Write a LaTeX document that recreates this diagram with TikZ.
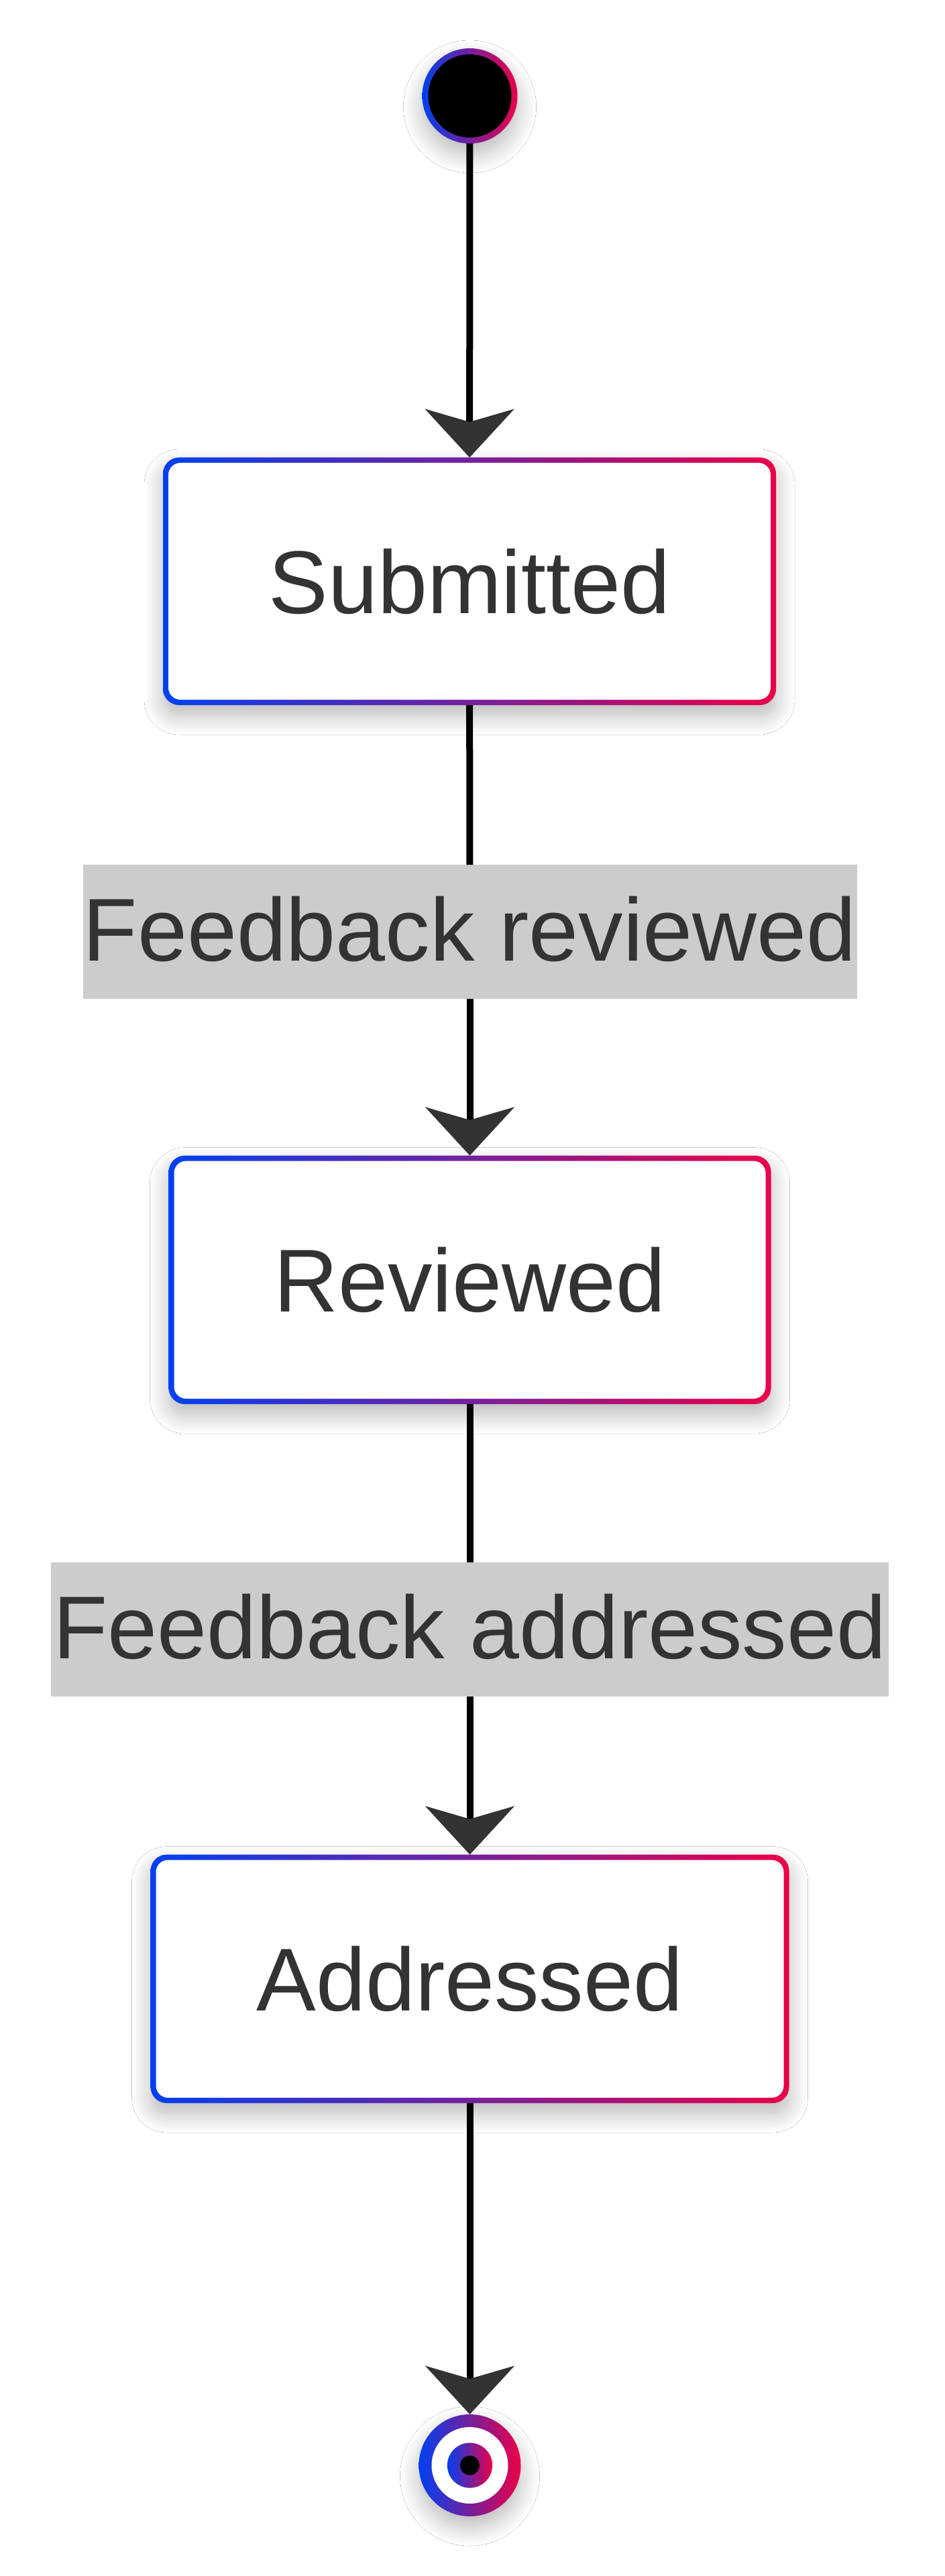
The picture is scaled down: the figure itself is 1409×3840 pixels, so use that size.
\documentclass[tikz,border=0pt]{standalone}
\usepackage{fontspec}
\setmainfont{Liberation Sans}
\usetikzlibrary{arrows.meta,shadows.blur}
\definecolor{gblue}{RGB}{0,64,240}
\definecolor{gred}{RGB}{235,0,72}
\definecolor{txt}{RGB}{51,51,51}
\definecolor{lblbg}{RGB}{204,204,204}
\tikzset{
  softshadow/.style={blur shadow={shadow xshift=0pt,shadow yshift=-4pt,shadow blur radius=7pt,shadow blur steps=12,shadow opacity=28}},
  labelfont/.style={font=\fontsize{33.25pt}{40pt}\selectfont, text=txt},
  statebox/.style={rectangle, rounded corners=6pt, left color=gblue, right color=gred,
    inner sep=0pt, outer sep=0pt, labelfont, softshadow,
    path picture={\fill[white,rounded corners=4.5pt]
      ([shift={(2pt,2pt)}]path picture bounding box.south west) rectangle
      ([shift={(-2pt,-2pt)}]path picture bounding box.north east);}},
  startdot/.style={circle, minimum size=35.5pt, inner sep=0pt, outer sep=0pt,
    left color=gblue, right color=gred, softshadow,
    path picture={\fill[black] (path picture bounding box.center) circle (15.5pt);}},
  enddot/.style={circle, minimum size=38pt, inner sep=0pt, outer sep=0pt,
    left color=gblue, right color=gred, softshadow,
    path picture={
      \fill[white] (path picture bounding box.center) circle (14.25pt);
      \shade[left color=gblue, right color=gred] (path picture bounding box.center) circle (8.4pt);
      \fill[black] (path picture bounding box.center) circle (3.6pt);}},
  edgelabel/.style={rectangle, fill=lblbg, inner sep=0pt, outer sep=0pt, minimum height=50pt,
    labelfont, text height=24.5pt, text depth=3pt},
  plainline/.style={line width=2.5pt, draw=black},
  conn/.style={line width=2.5pt, draw=black,
    -{Stealth[length=18pt,width=33pt,inset=4.75pt,color=txt]}}
}
\begin{document}
\begin{tikzpicture}[x=0.25pt,y=-0.25pt]
  \useasboundingbox (0,0) rectangle (1409,3840);
  \fill[white] (0,0) rectangle (1409,3840);

  \node[startdot] (start) at (700.5,143) {};
  \node[statebox, minimum width=228.5pt, minimum height=92.25pt] (sub) at (700,866.5) {Submitted};
  \node[edgelabel, minimum width=288.5pt] (l1) at (700.5,1389) {Feedback reviewed};
  \node[statebox, minimum width=224.5pt, minimum height=92.6pt] (rev) at (700.5,1907.8) {Reviewed};
  \node[edgelabel, minimum width=312.3pt] (l2) at (700.5,2429) {Feedback addressed};
  \node[statebox, minimum width=238pt, minimum height=92.6pt] (add) at (700.5,2949.8) {Addressed};
  \node[enddot] (end) at (700.5,3675) {};

  \draw[conn] (start) -- (sub);
  \draw[plainline] (sub) -- (l1);
  \draw[conn] (l1) -- (rev);
  \draw[plainline] (rev) -- (l2);
  \draw[conn] (l2) -- (add);
  \draw[conn] (add) -- (end);
\end{tikzpicture}
\end{document}
